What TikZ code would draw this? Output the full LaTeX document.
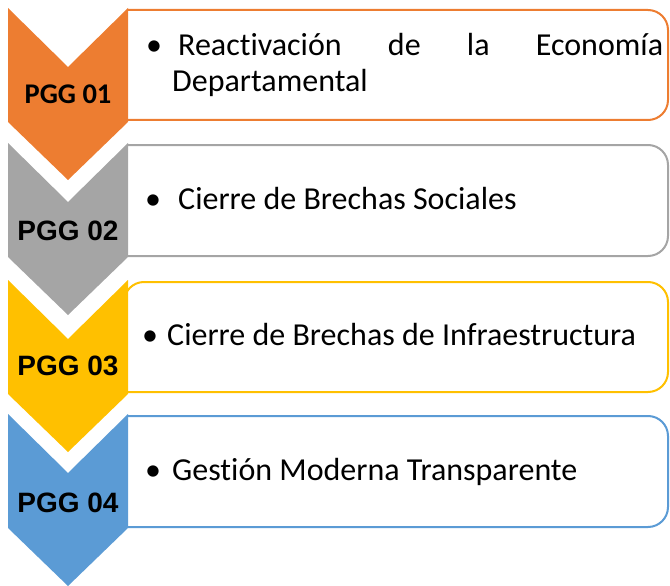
\documentclass[tikz,border=0pt]{standalone}
\usepackage{fontspec}
\setmainfont{Carlito}[Ligatures=NoCommon]
\newfontfamily\arialfont{Liberation Sans}
\definecolor{pgorange}{HTML}{ED7D31}
\definecolor{pggray}{HTML}{A5A5A5}
\definecolor{pgyellow}{HTML}{FFC000}
\definecolor{pgblue}{HTML}{5B9BD5}
\tikzset{
  boxline/.style={line width=2pt, rounded corners=20pt},
  txt/.style={anchor=base west, inner sep=0pt, font=\fontsize{32}{36}\selectfont},
  lblA/.style={anchor=base, inner sep=0pt, font=\fontsize{28.5}{32}\selectfont\bfseries},
  lblB/.style={anchor=base, inner sep=0pt, font=\fontsize{28}{32}\selectfont\arialfont\bfseries},
}
\newcommand{\chev}[2]{%
  \fill[#1] (8,#2) -- (68,#2+59) -- (128,#2) -- (128,#2+114) -- (68,#2+172) -- (8,#2+114) -- cycle;}
\begin{document}
\begin{tikzpicture}[x=1pt,y=-1pt]
\useasboundingbox (0,0) rectangle (670,586);
% chevrons
\chev{pgorange}{8}
\chev{pggray}{143}
\chev{pgyellow}{280}
\chev{pgblue}{414}
% boxes
\draw[boxline,pgorange] (128,10) -- (668,10) -- (668,120) -- (128,120);
\draw[boxline,pggray] (128,145) -- (668,145) -- (668,256) -- (128,256);
\draw[boxline,pgyellow] (124,392) -- (124,282) -- (668,282) -- (668,392) -- (124,392);
\draw[boxline,pgblue] (128,416) -- (668,416) -- (668,527) -- (128,527);
% labels
\node[lblA] (p1) at (68,103) {PGG 01};
\node[lblB] (p2) at (68,240) {PGG 02};
\node[lblB] (p3) at (68,375) {PGG 03};
\node[lblB] (p4) at (68,512) {PGG 04};
% texts
\node[txt] (b1) at (146,56) {•};
\node[txt] (t1a) at (178,56) {\makebox[485pt][s]{Reactivación de la Economía}};
\node[txt] (t1b) at (172,92) {Departamental};
\node[txt] (b2) at (145,209) {•};
\node[txt] (t2) at (178,209) {Cierre de Brechas Sociales};
\node[txt] (b3) at (142,345) {•};
\node[txt] (t3) at (167,345) {Cierre de Brechas de Infraestructura};
\node[txt] (b4) at (145,480) {•};
\node[txt] (t4) at (172,480) {Gestión Moderna Transparente};
\end{tikzpicture}
\end{document}
